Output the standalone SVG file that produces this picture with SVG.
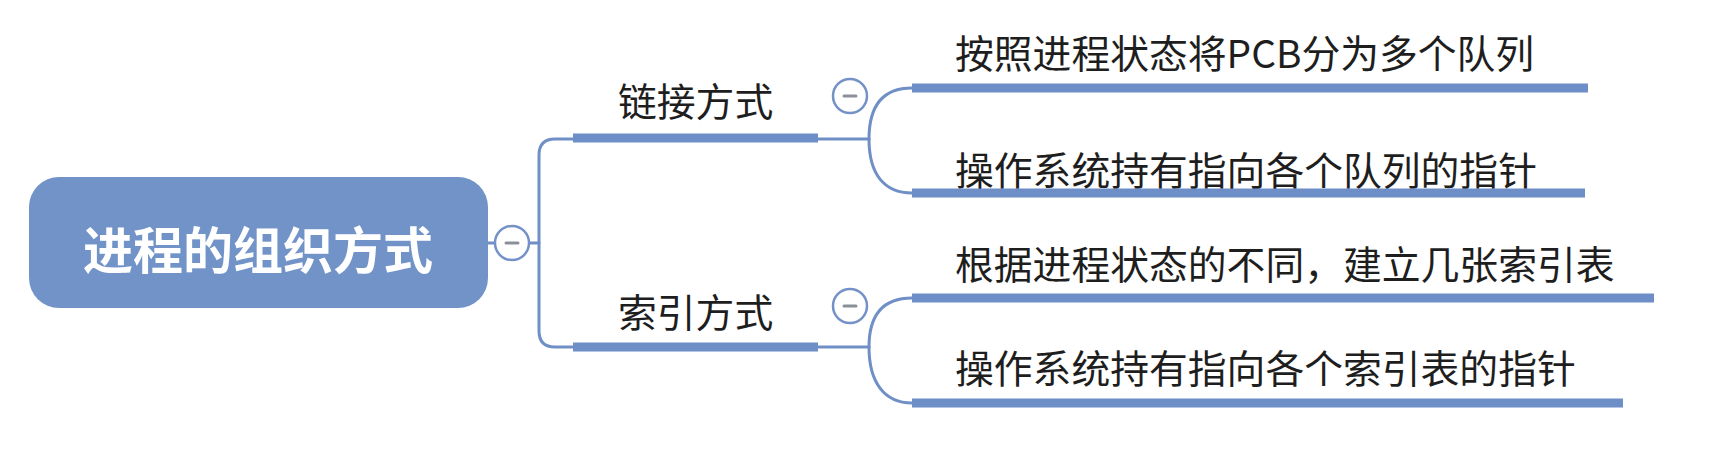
<svg xmlns="http://www.w3.org/2000/svg" width="1712" height="466" viewBox="0 0 1712 466">
<style>
.line{fill:none;stroke:#6f8fc6;stroke-width:3;stroke-linecap:round}
.bar{fill:none;stroke:#6d8ec6;stroke-width:9}
.txt{font-family:"Noto Sans CJK SC","Noto Sans",sans-serif;font-size:38.8px;fill:#1e1e1e;dominant-baseline:central}
.root{font-family:"Noto Sans CJK SC","Noto Sans",sans-serif;font-size:50px;font-weight:bold;fill:#ffffff;dominant-baseline:central;text-anchor:middle}
.tog circle{fill:#ffffff;stroke:#7592c8;stroke-width:2.5}
.tog line{stroke:#8a8f9a;stroke-width:3;stroke-linecap:round}
</style>
<rect width="1712" height="466" fill="#ffffff"/>
<g id="connectors">
<line class="line" x1="488" y1="243" x2="495" y2="243"/>
<path class="line" d="M529,243 H539"/>
<path class="line" d="M573,139 H555 Q539,139 539,155 V331 Q539,347 555,347 H573"/>
<path class="line" d="M818,139 H869"/>
<path class="line" d="M869,139 C869,104 884,88 912,88"/>
<path class="line" d="M869,139 C869,174 884,193 912,193"/>
<path class="line" d="M818,347 H869"/>
<path class="line" d="M869,347 C869,313 884,298 912,298"/>
<path class="line" d="M869,347 C869,382 884,403 912,403"/>
</g>
<g id="root">
<rect x="29" y="177" width="459" height="131" rx="30" fill="#7193c8"/>
<text class="root" x="258" y="247">进程的组织方式</text>
<g class="tog"><circle cx="512" cy="243" r="17"/><line x1="506" y1="243" x2="518" y2="243"/></g>
</g>
<g id="n-link">
<text class="txt" x="618" y="99">链接方式</text>
<line class="bar" x1="573" y1="138" x2="818" y2="138"/>
<g class="tog"><circle cx="850" cy="96" r="17"/><line x1="844" y1="96" x2="856" y2="96"/></g>
</g>
<g id="n-index">
<text class="txt" x="618" y="310">索引方式</text>
<line class="bar" x1="573" y1="347" x2="818" y2="347"/>
<g class="tog"><circle cx="850" cy="306" r="17"/><line x1="844" y1="306" x2="856" y2="306"/></g>
</g>
<g id="n-link-1">
<text class="txt" x="955" y="51">按照进程状态将PCB分为多个队列</text>
<line class="bar" x1="912" y1="88" x2="1588" y2="88"/>
</g>
<g id="n-link-2">
<text class="txt" x="955" y="168">操作系统持有指向各个队列的指针</text>
<line class="bar" x1="912" y1="193" x2="1585" y2="193"/>
</g>
<g id="n-index-1">
<text class="txt" x="955" y="262">根据进程状态的不同，建立几张索引表</text>
<line class="bar" x1="912" y1="298" x2="1654" y2="298"/>
</g>
<g id="n-index-2">
<text class="txt" x="955" y="366">操作系统持有指向各个索引表的指针</text>
<line class="bar" x1="912" y1="403" x2="1623" y2="403"/>
</g>
</svg>
